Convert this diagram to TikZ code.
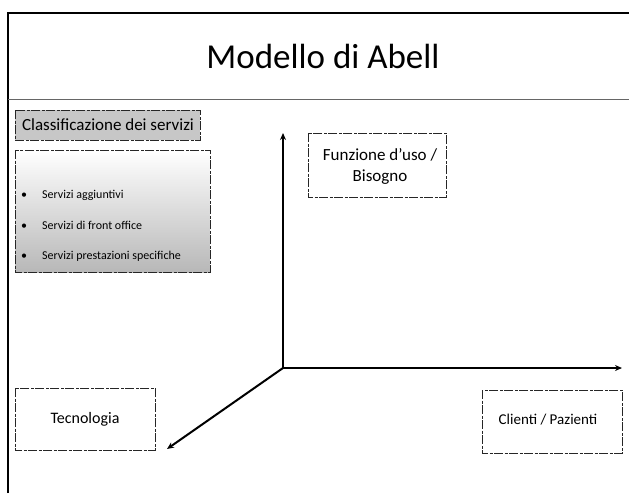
\documentclass[tikz,border=0pt]{standalone}
\usepackage{fontspec}
\setmainfont{Carlito}
\usetikzlibrary{arrows.meta,positioning}
\tikzset{
  boxline/.style={draw=black!85,line width=0.8pt,dash pattern=on 9pt off 1.5pt on 3pt off 1.5pt},
  axis/.style={line width=2pt,-{Stealth[length=7pt,width=6pt]}},
  lbl/.style={inner sep=0pt,align=center},
  bul/.style={lbl,anchor=west,font=\fontsize{12}{14}\selectfont},
}
\begin{document}
\begin{tikzpicture}[x=1pt,y=-1pt]
\useasboundingbox (0,0) rectangle (629,493);
% frame
\draw[line width=1.4pt] (8,493) -- (8,13) -- (629,13);
\draw[line width=1pt,black!60] (8,99) -- (629,99);
% title
\node[lbl,font=\fontsize{35}{40}\selectfont] (title) at (323,56) {Modello di Abell};
% classification heading
\draw[boxline,fill=black!22] (15,110) rectangle (200,140);
\node[lbl,font=\fontsize{17}{20}\selectfont] (classif) at (108,125) {Classificazione dei servizi};
% bullet box
\shade[top color=white,middle color=white,bottom color=black!28] (15,150) rectangle (210,272);
\draw[boxline] (15,150) rectangle (210,272);
\node[bul] (b1) at (21,195) {\textbullet\hspace{15pt}Servizi aggiuntivi};
\node[bul] (b2) at (21,225) {\textbullet\hspace{15pt}Servizi di front office};
\node[bul] (b3) at (21,256) {\textbullet\hspace{15pt}Servizi prestazioni specifiche};
% dimension boxes
\draw[boxline] (308,133) rectangle (446,197);
\node[lbl,font=\fontsize{17}{20}\selectfont] (funz) at (380,166) {Funzione d'uso /\\[1pt]Bisogno};
\draw[boxline] (15,388) rectangle (155,450);
\node[lbl,font=\fontsize{16}{19}\selectfont] (tecn) at (85,419) {Tecnologia};
\draw[boxline] (482,390) rectangle (622,453);
\node[lbl,font=\fontsize{15}{18}\selectfont] (clienti) at (548,420) {Clienti / Pazienti};
% axes
\coordinate (O) at (283,368);
\coordinate (up) at (283,133);
\coordinate (right) at (622,368);
\coordinate (diag) at (167,449);
\draw[axis] (O) -- (up);
\draw[axis] (O) -- (right);
\draw[axis] (O) -- (diag);
\end{tikzpicture}
\end{document}
